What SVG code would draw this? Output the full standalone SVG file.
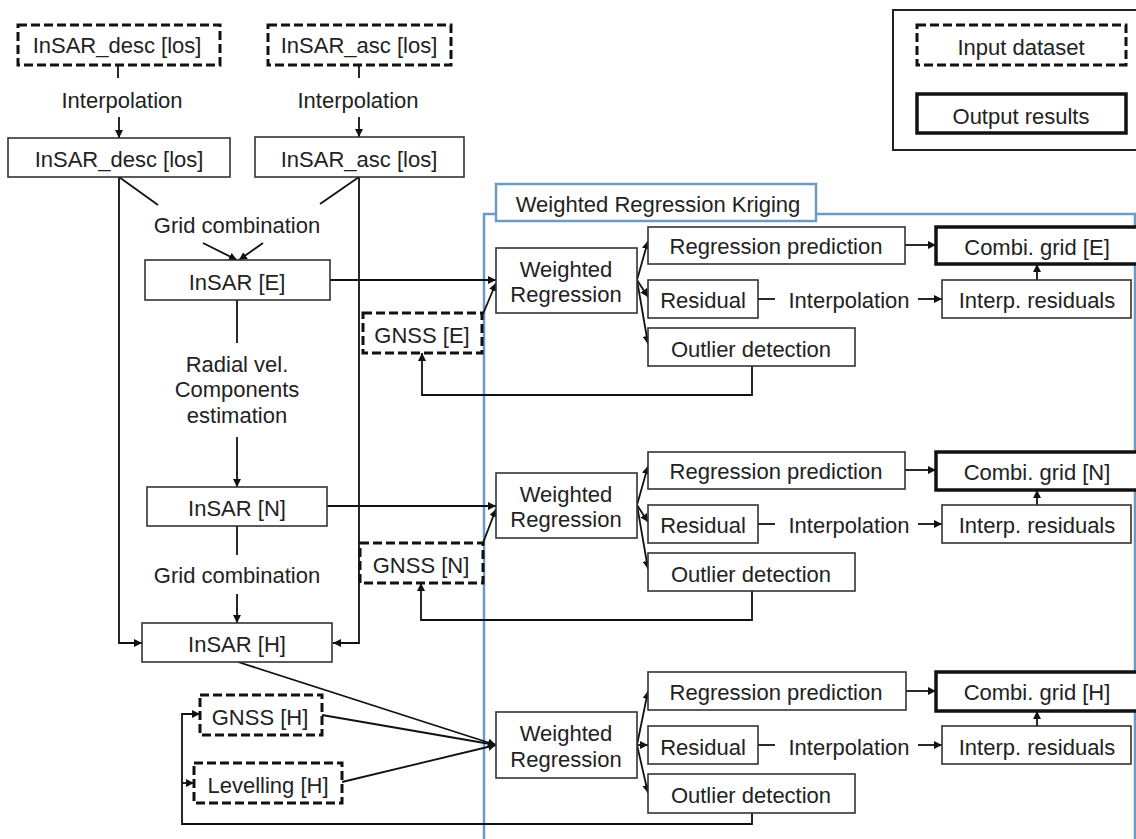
<svg xmlns="http://www.w3.org/2000/svg" width="1136" height="839" viewBox="0 0 1136 839">
<defs>
<style>
text{font-family:"Liberation Sans",Arial,Helvetica,sans-serif;font-size:22px;fill:#222;text-anchor:middle}
.box{fill:#fff;stroke:#333;stroke-width:1.6}
.dash{fill:#fff;stroke:#111;stroke-width:3;stroke-dasharray:9 4}
.out{fill:#fff;stroke:#111;stroke-width:3.5}
.ln{fill:none;stroke:#111;stroke-width:1.8}
.ar{fill:none;stroke:#111;stroke-width:1.8;marker-end:url(#ah)}
.blue{fill:none;stroke:#6c9ac6;stroke-width:2.5}
</style>
<marker id="ah" viewBox="0 0 10 10" refX="10" refY="5" markerWidth="8" markerHeight="8" markerUnits="userSpaceOnUse" orient="auto">
<path d="M0,0 L10,5 L0,10 z" fill="#111"/>
</marker>
</defs>
<rect width="1136" height="839" fill="#fff"/>

<g id="wrk-container">
<path class="blue" d="M484,839 V214 H1140"/>
<line class="blue" x1="1135" y1="214" x2="1135" y2="839"/>
<rect x="496" y="184" width="320" height="37" fill="#fff" stroke="#6c9ac6" stroke-width="2.5"/>
<text x="658" y="212">Weighted Regression Kriging</text>
</g>

<g id="legend">
<rect x="893" y="10" width="250" height="140" fill="#fff" stroke="#222" stroke-width="2"/>
<rect class="dash" x="917" y="25" width="209" height="40"/>
<text x="1021" y="55">Input dataset</text>
<rect class="out" x="917" y="94" width="209" height="39" stroke-width="3"/>
<text x="1021" y="124">Output results</text>
</g>

<g id="connectors">
<line class="ln" x1="118" y1="65" x2="118" y2="78"/>
<line class="ar" x1="119" y1="117" x2="119" y2="138"/>
<line class="ln" x1="359" y1="65" x2="359" y2="78"/>
<line class="ar" x1="359" y1="117" x2="359" y2="137"/>
<line class="ln" x1="119" y1="177" x2="158" y2="205"/>
<line class="ln" x1="359" y1="177" x2="320" y2="204"/>
<line class="ar" x1="203" y1="243" x2="237" y2="260"/>
<line class="ar" x1="263" y1="243" x2="239" y2="260"/>
<path class="ar" d="M119,177 V643 H142"/>
<path class="ar" d="M359,177 V643 H333"/>
<line class="ln" x1="237" y1="300" x2="237" y2="343"/>
<line class="ar" x1="237" y1="437" x2="237" y2="487"/>
<line class="ln" x1="237" y1="526" x2="237" y2="555"/>
<line class="ar" x1="237" y1="594" x2="237" y2="623"/>
<!-- E -->
<line class="ar" x1="330" y1="280" x2="496" y2="280"/>
<line class="ar" x1="483" y1="314" x2="496" y2="283"/>
<path class="ar" d="M752,366 V395 H422 V353"/>
<line class="ar" x1="637" y1="280" x2="648" y2="241"/>
<line class="ar" x1="637" y1="280" x2="648" y2="297"/>
<line class="ar" x1="637" y1="280" x2="648" y2="344"/>
<line class="ar" x1="905" y1="245" x2="936" y2="245"/>
<line class="ln" x1="758" y1="299" x2="775" y2="299"/>
<line class="ar" x1="918" y1="299" x2="942" y2="299"/>
<line class="ar" x1="1037" y1="280" x2="1037" y2="264"/>
<!-- N -->
<line class="ar" x1="327" y1="506" x2="496" y2="506"/>
<line class="ar" x1="483" y1="543" x2="496" y2="509"/>
<path class="ar" d="M752,591 V620 H421 V583"/>
<line class="ar" x1="637" y1="505" x2="648" y2="466"/>
<line class="ar" x1="637" y1="505" x2="648" y2="522"/>
<line class="ar" x1="637" y1="505" x2="648" y2="569"/>
<line class="ar" x1="905" y1="470" x2="936" y2="470"/>
<line class="ln" x1="758" y1="524" x2="775" y2="524"/>
<line class="ar" x1="918" y1="524" x2="942" y2="524"/>
<line class="ar" x1="1037" y1="505" x2="1037" y2="490"/>
<!-- H -->
<line class="ar" x1="238" y1="662" x2="496" y2="745"/>
<line class="ar" x1="322" y1="715" x2="496" y2="745"/>
<line class="ar" x1="342" y1="782" x2="496" y2="745"/>
<path class="ar" d="M752,813 V824 H182 V714 H200"/>
<line class="ar" x1="182" y1="783" x2="194" y2="783"/>
<line class="ar" x1="637" y1="745" x2="648" y2="691"/>
<line class="ar" x1="637" y1="745" x2="648" y2="745"/>
<line class="ar" x1="637" y1="745" x2="648" y2="793"/>
<line class="ar" x1="906" y1="691" x2="936" y2="691"/>
<line class="ln" x1="758" y1="745" x2="775" y2="745"/>
<line class="ar" x1="918" y1="745" x2="942" y2="745"/>
<line class="ar" x1="1037" y1="726" x2="1037" y2="711"/>
</g>

<g id="labels">
<text x="122" y="108">Interpolation</text>
<text x="358" y="108">Interpolation</text>
<text x="237" y="233">Grid combination</text>
<text x="237" y="372">Radial vel.</text>
<text x="237" y="397">Components</text>
<text x="237" y="423">estimation</text>
<text x="237" y="583">Grid combination</text>
<text x="849" y="308">Interpolation</text>
<text x="849" y="533">Interpolation</text>
<text x="849" y="755">Interpolation</text>
</g>

<g id="insar-desc-in"><rect class="dash" x="18" y="25" width="202" height="40"/><text x="117" y="53">InSAR_desc [los]</text></g>
<g id="insar-asc-in"><rect class="dash" x="268" y="25" width="183" height="40"/><text x="359" y="53">InSAR_asc [los]</text></g>
<g id="insar-desc"><rect class="box" x="8" y="138" width="222" height="39"/><text x="119" y="167">InSAR_desc [los]</text></g>
<g id="insar-asc"><rect class="box" x="255" y="137" width="209" height="40"/><text x="359" y="167">InSAR_asc [los]</text></g>
<g id="insar-e"><rect class="box" x="145" y="260" width="185" height="40"/><text x="237" y="290">InSAR [E]</text></g>
<g id="insar-n"><rect class="box" x="147" y="487" width="180" height="39"/><text x="237" y="516">InSAR [N]</text></g>
<g id="insar-h"><rect class="box" x="142" y="623" width="190" height="39"/><text x="237" y="652">InSAR [H]</text></g>
<g id="gnss-e"><rect class="dash" x="363" y="313" width="119" height="40"/><text x="422" y="343">GNSS [E]</text></g>
<g id="gnss-n"><rect class="dash" x="360" y="543" width="123" height="40"/><text x="421" y="573">GNSS [N]</text></g>
<g id="gnss-h"><rect class="dash" x="200" y="695" width="122" height="40"/><text x="260" y="725">GNSS [H]</text></g>
<g id="levelling-h"><rect class="dash" x="194" y="763" width="148" height="40"/><text x="268" y="793">Levelling [H]</text></g>

<g id="wr-e"><rect class="box" x="496" y="248" width="141" height="65"/><text x="566" y="277">Weighted</text><text x="566" y="302">Regression</text></g>
<g id="rp-e"><rect class="box" x="648" y="227" width="257" height="37"/><text x="776" y="254">Regression prediction</text></g>
<g id="res-e"><rect class="box" x="648" y="280" width="110" height="38"/><text x="703" y="308">Residual</text></g>
<g id="out-e"><rect class="box" x="648" y="328" width="207" height="38"/><text x="751" y="357">Outlier detection</text></g>
<g id="combi-e"><rect class="out" x="936" y="227" width="210" height="37"/><text x="1037" y="255">Combi. grid [E]</text></g>
<g id="interp-e"><rect class="box" x="942" y="280" width="189" height="38"/><text x="1037" y="308">Interp. residuals</text></g>

<g id="wr-n"><rect class="box" x="496" y="473" width="141" height="65"/><text x="566" y="502">Weighted</text><text x="566" y="527">Regression</text></g>
<g id="rp-n"><rect class="box" x="648" y="452" width="257" height="37"/><text x="776" y="479">Regression prediction</text></g>
<g id="res-n"><rect class="box" x="648" y="505" width="110" height="38"/><text x="703" y="533">Residual</text></g>
<g id="out-n"><rect class="box" x="648" y="553" width="207" height="38"/><text x="751" y="582">Outlier detection</text></g>
<g id="combi-n"><rect class="out" x="936" y="452" width="210" height="38"/><text x="1037" y="480">Combi. grid [N]</text></g>
<g id="interp-n"><rect class="box" x="942" y="505" width="189" height="38"/><text x="1037" y="533">Interp. residuals</text></g>

<g id="wr-h"><rect class="box" x="496" y="712" width="141" height="66"/><text x="566" y="741">Weighted</text><text x="566" y="767">Regression</text></g>
<g id="rp-h"><rect class="box" x="648" y="672" width="258" height="38"/><text x="776" y="700">Regression prediction</text></g>
<g id="res-h"><rect class="box" x="648" y="726" width="110" height="38"/><text x="703" y="755">Residual</text></g>
<g id="out-h"><rect class="box" x="648" y="774" width="207" height="39"/><text x="751" y="803">Outlier detection</text></g>
<g id="combi-h"><rect class="out" x="936" y="672" width="210" height="39"/><text x="1037" y="700">Combi. grid [H]</text></g>
<g id="interp-h"><rect class="box" x="942" y="726" width="189" height="38"/><text x="1037" y="755">Interp. residuals</text></g>
</svg>
